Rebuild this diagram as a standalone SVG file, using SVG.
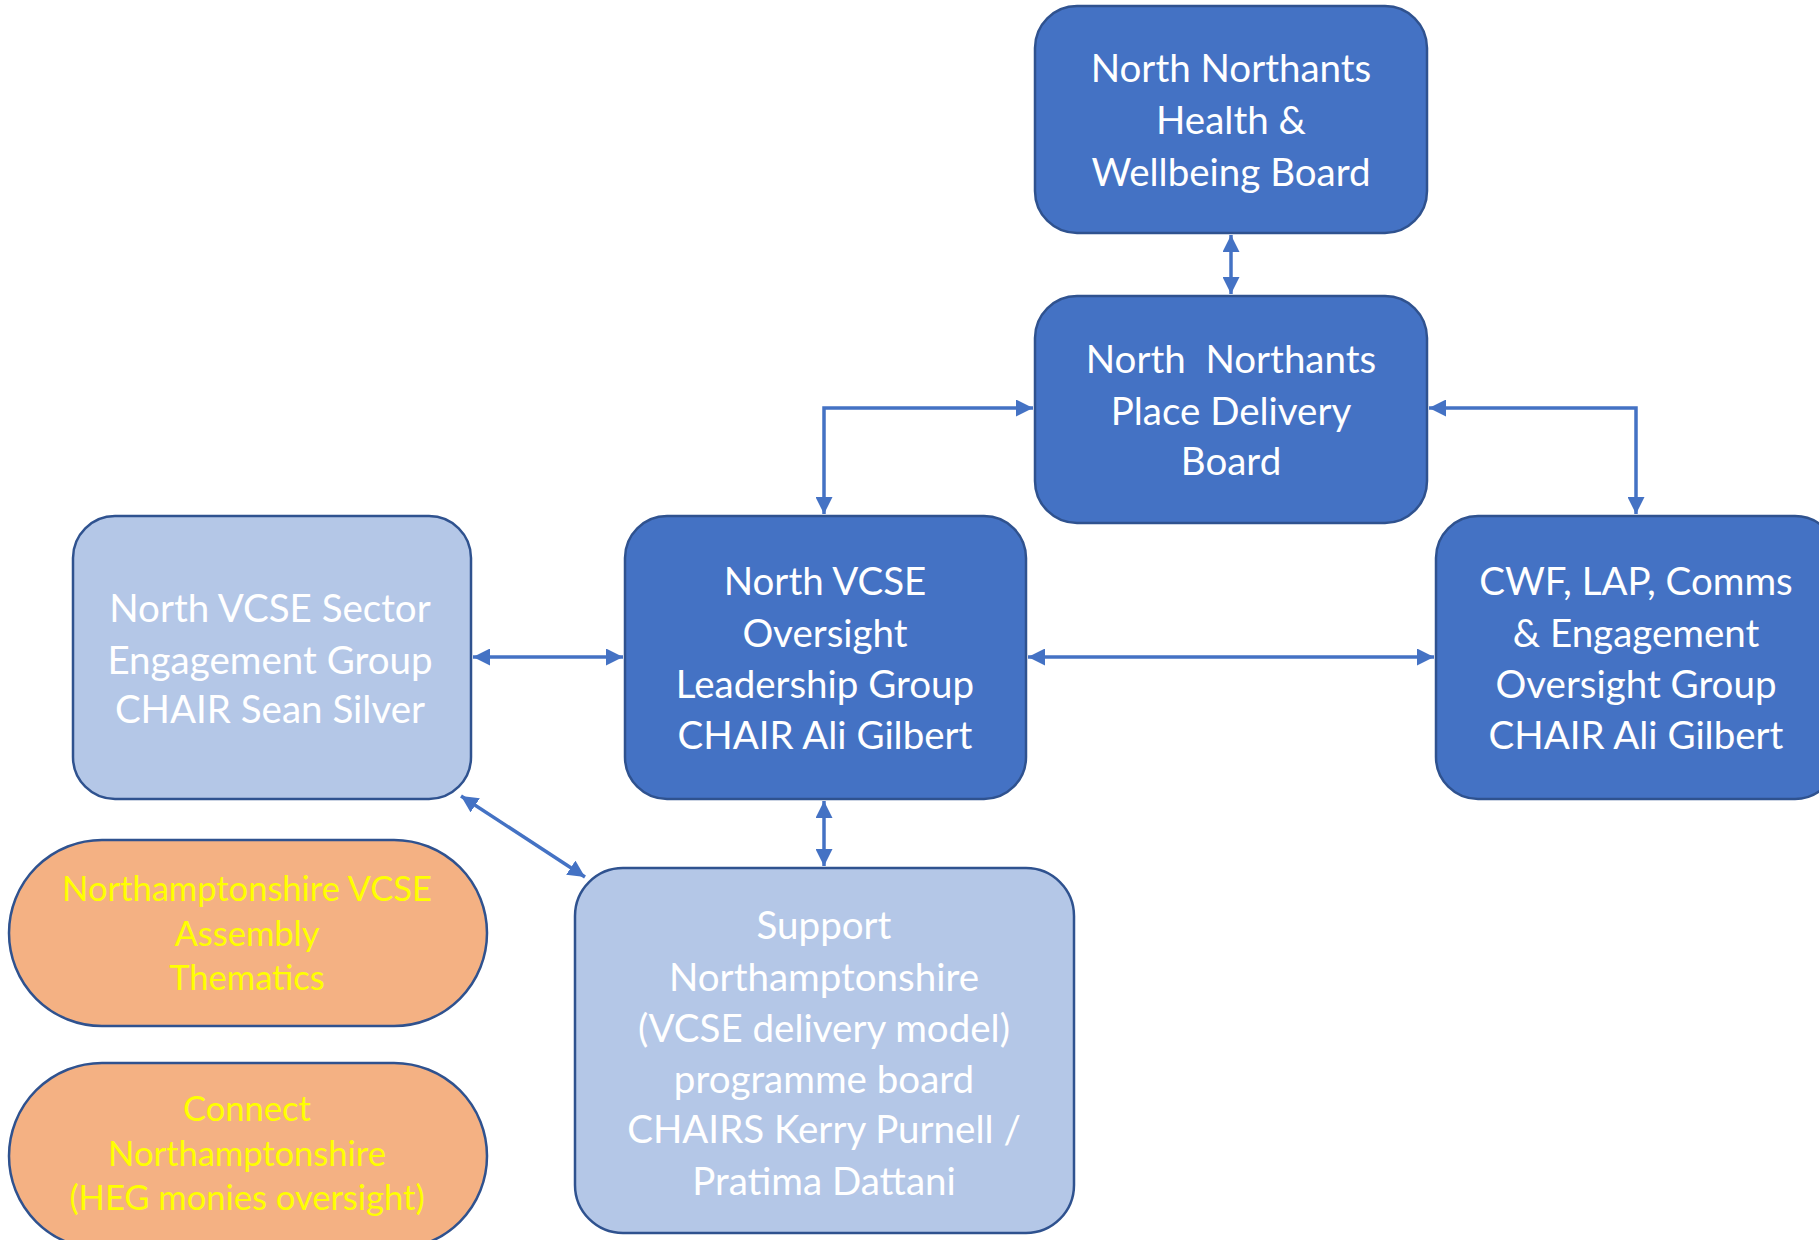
<svg xmlns="http://www.w3.org/2000/svg" width="1819" height="1240" viewBox="0 0 1819 1240">
<style>
.dark{fill:#4472C4;stroke:#2F528F;stroke-width:2.5}
.light{fill:#B4C7E7;stroke:#2F528F;stroke-width:2.5}
.orange{fill:#F4B183;stroke:#2F528F;stroke-width:2.5}
.t{font-family:Lato,"Open Sans","Liberation Sans",sans-serif;font-size:38.5px;fill:#FFFFFF;text-anchor:middle}
.y{font-family:Lato,"Open Sans","Liberation Sans",sans-serif;font-size:34.5px;fill:#FFFF00;text-anchor:middle}
.c{fill:none;stroke:#4472C4;stroke-width:3.5}
</style>
<defs>
<marker id="ah" viewBox="0 0 10 10" refX="10" refY="5" markerWidth="17" markerHeight="17" markerUnits="userSpaceOnUse" orient="auto-start-reverse">
<path d="M0,0 L10,5 L0,10 Z" fill="#4472C4"/>
</marker>
</defs>
<rect width="1819" height="1240" fill="#FFFFFF"/>
<g id="connectors">
<line class="c" x1="1231" y1="235" x2="1231" y2="294" marker-start="url(#ah)" marker-end="url(#ah)"/>
<polyline class="c" points="824,514 824,408 1033,408" marker-start="url(#ah)" marker-end="url(#ah)"/>
<polyline class="c" points="1429,408 1636,408 1636,514" marker-start="url(#ah)" marker-end="url(#ah)"/>
<line class="c" x1="473" y1="657" x2="623" y2="657" marker-start="url(#ah)" marker-end="url(#ah)"/>
<line class="c" x1="1028" y1="657" x2="1434" y2="657" marker-start="url(#ah)" marker-end="url(#ah)"/>
<line class="c" x1="824" y1="801" x2="824" y2="866" marker-start="url(#ah)" marker-end="url(#ah)"/>
<line class="c" x1="461" y1="796" x2="585" y2="877" marker-start="url(#ah)" marker-end="url(#ah)"/>
</g>
<g id="health-wellbeing-board">
<rect class="dark" x="1035" y="6" width="392" height="227" rx="42"/>
<text class="t" x="1231" y="82">North Northants</text>
<text class="t" x="1231" y="134">Health &amp;</text>
<text class="t" x="1231" y="186">Wellbeing Board</text>
</g>
<g id="place-delivery-board">
<rect class="dark" x="1035" y="296" width="392" height="227" rx="42"/>
<text class="t" x="1231" y="373">North&#160; Northants</text>
<text class="t" x="1231" y="425">Place Delivery</text>
<text class="t" x="1231" y="475">Board</text>
</g>
<g id="oversight-leadership-group">
<rect class="dark" x="625" y="516" width="401" height="283" rx="42"/>
<text class="t" x="825" y="595">North VCSE</text>
<text class="t" x="825" y="647">Oversight</text>
<text class="t" x="825" y="698">Leadership Group</text>
<text class="t" x="825" y="749">CHAIR Ali Gilbert</text>
</g>
<g id="cwf-oversight-group">
<rect class="dark" x="1436" y="516" width="401" height="283" rx="42"/>
<text class="t" x="1636" y="595">CWF, LAP, Comms</text>
<text class="t" x="1636" y="647">&amp; Engagement</text>
<text class="t" x="1636" y="698">Oversight Group</text>
<text class="t" x="1636" y="749">CHAIR Ali Gilbert</text>
</g>
<g id="sector-engagement-group">
<rect class="light" x="73" y="516" width="398" height="283" rx="42"/>
<text class="t" x="270" y="622">North VCSE Sector</text>
<text class="t" x="270" y="674">Engagement Group</text>
<text class="t" x="270" y="723">CHAIR Sean Silver</text>
</g>
<g id="support-northamptonshire">
<rect class="light" x="575" y="868" width="499" height="365" rx="48"/>
<text class="t" x="824" y="939">Support</text>
<text class="t" x="824" y="991">Northamptonshire</text>
<text class="t" x="824" y="1042">(VCSE delivery model)</text>
<text class="t" x="824" y="1093">programme board</text>
<text class="t" x="824" y="1143">CHAIRS Kerry Purnell /</text>
<text class="t" x="824" y="1195">Pratima Dattani</text>
</g>
<g id="vcse-assembly">
<rect class="orange" x="9" y="840" width="478" height="186" rx="93"/>
<text class="y" x="247" y="901">Northamptonshire VCSE</text>
<text class="y" x="247" y="946">Assembly</text>
<text class="y" x="247" y="990">Thematics</text>
</g>
<g id="connect-northamptonshire">
<rect class="orange" x="9" y="1063" width="478" height="186" rx="93"/>
<text class="y" x="247" y="1121">Connect</text>
<text class="y" x="247" y="1166">Northamptonshire</text>
<text class="y" x="247" y="1210">(HEG monies oversight)</text>
</g>
</svg>
